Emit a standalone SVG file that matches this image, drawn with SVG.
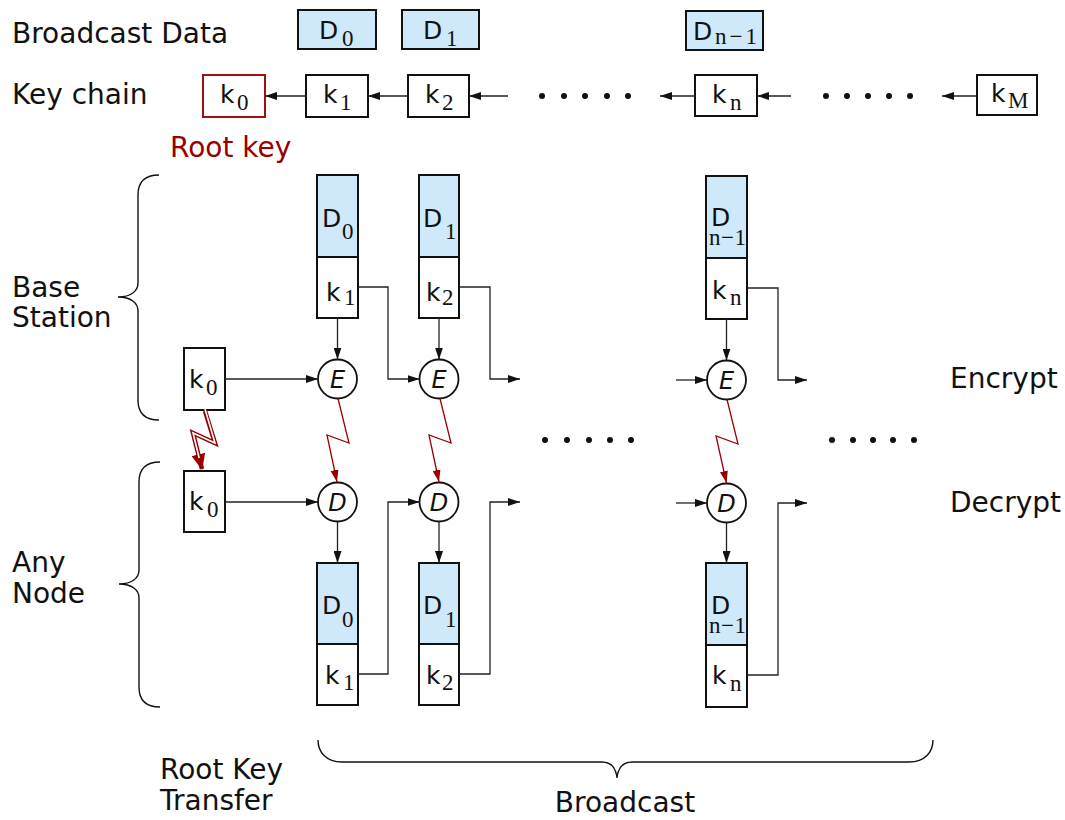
<svg xmlns="http://www.w3.org/2000/svg" width="1065" height="820" viewBox="0 0 1065 820">
<defs>
<style>
.lbl{font-family:"DejaVu Sans","Liberation Sans",sans-serif;font-size:28px;fill:#111}
.red{fill:#990000}
.bx{fill:#fff;stroke:#111;stroke-width:2}
.bd{fill:#cfe9fb;stroke:#111;stroke-width:2}
.bk{font-family:"DejaVu Sans","Liberation Sans",sans-serif;font-size:25px;fill:#111}
.sb{font-family:"Liberation Serif","DejaVu Serif",serif;font-size:23px}
.op{font-family:"DejaVu Sans","Liberation Sans",sans-serif;font-size:24px;font-style:italic;fill:#111}
.cir{fill:#fff;stroke:#111;stroke-width:1.8}
.ar{fill:none;stroke:#222;stroke-width:1.3;marker-end:url(#ah)}
.bolt{fill:none;stroke:#990000;stroke-width:1.3;marker-end:url(#rh)}
.br{fill:none;stroke:#111;stroke-width:1.4}
.dot{fill:#111}
</style>
<marker id="ah" viewBox="0 0 12 8" refX="12" refY="4" markerWidth="12" markerHeight="8" markerUnits="userSpaceOnUse" orient="auto"><path d="M0,0 L12,4 L0,8 z" fill="#111"/></marker>
<marker id="rh" viewBox="0 0 12 8" refX="12" refY="4" markerWidth="12" markerHeight="8" markerUnits="userSpaceOnUse" orient="auto"><path d="M0,0 L12,4 L0,8 z" fill="#990000"/></marker>
<marker id="rbig" viewBox="0 0 16 14" refX="15" refY="7" markerWidth="16" markerHeight="14" markerUnits="userSpaceOnUse" orient="auto"><path d="M0,0 L16,7 L0,14 z" fill="#990000"/></marker>
</defs>
<rect width="1065" height="820" fill="#fff"/>

<g id="labels">
<text class="lbl" x="12" y="43">Broadcast Data</text>
<text class="lbl" x="12" y="104">Key chain</text>
<text class="lbl red" x="170" y="157">Root key</text>
<text class="lbl" x="12" y="297">Base</text>
<text class="lbl" x="12" y="327">Station</text>
<text class="lbl" x="12" y="572">Any</text>
<text class="lbl" x="12" y="603">Node</text>
<text class="lbl" x="950" y="388">Encrypt</text>
<text class="lbl" x="950" y="512">Decrypt</text>
<text class="lbl" x="160" y="779">Root Key</text>
<text class="lbl" x="160" y="810">Transfer</text>
<text class="lbl" x="625" y="812" text-anchor="middle">Broadcast</text>
</g>

<g id="braces">
<path class="br" d="M159,175 C145,175 138,182 138,195 L138,283 C138,291 131,297 118,297 C131,297 138,303 138,311 L138,400 C138,413 145,420 159,420"/>
<path class="br" d="M160,462 C146,462 139,469 139,482 L139,570 C139,578 132,584 119,584 C132,584 139,590 139,598 L139,687 C139,700 146,707 160,707"/>
<path class="br" d="M318,740 C318,752 326,762 342,762 L602,762 C611,762 616,768 617,778 C618,768 623,762 632,762 L909,762 C925,762 933,752 933,740"/>
</g>

<g id="dots">
<circle class="dot" cx="542" cy="96" r="3"/><circle class="dot" cx="564" cy="96" r="3"/><circle class="dot" cx="585" cy="96" r="3"/><circle class="dot" cx="607" cy="96" r="3"/><circle class="dot" cx="628" cy="96" r="3"/>
<circle class="dot" cx="826" cy="96" r="3"/><circle class="dot" cx="847" cy="96" r="3"/><circle class="dot" cx="868" cy="96" r="3"/><circle class="dot" cx="889" cy="96" r="3"/><circle class="dot" cx="910" cy="96" r="3"/>
<circle class="dot" cx="545" cy="440" r="3"/><circle class="dot" cx="567" cy="440" r="3"/><circle class="dot" cx="589" cy="440" r="3"/><circle class="dot" cx="610" cy="440" r="3"/><circle class="dot" cx="631" cy="440" r="3"/>
<circle class="dot" cx="832" cy="440" r="3"/><circle class="dot" cx="853" cy="440" r="3"/><circle class="dot" cx="873" cy="440" r="3"/><circle class="dot" cx="893" cy="440" r="3"/><circle class="dot" cx="914" cy="440" r="3"/>
</g>

<g id="data-D0"><rect class="bd" x="298" y="10" width="78" height="39"/><text class="bk" x="319" y="39">D<tspan class="sb" x="342" y="46">0</tspan></text></g>
<g id="data-D1"><rect class="bd" x="402" y="10" width="77" height="39"/><text class="bk" x="423" y="39">D<tspan class="sb" x="446" y="46">1</tspan></text></g>
<g id="data-Dn1"><rect class="bd" x="686" y="11" width="77" height="39"/><text class="bk" x="693" y="40">D<tspan class="sb" x="715" y="44" textLength="42" lengthAdjust="spacing">n−1</tspan></text></g>

<g id="kc-k0"><rect class="bx" x="203" y="75" width="62" height="42" style="stroke:#a01010"/><text class="bk" x="220" y="103">k<tspan class="sb" x="237" y="110">0</tspan></text></g>
<g id="kc-k1"><rect class="bx" x="306" y="75" width="62" height="42"/><text class="bk" x="323" y="103">k<tspan class="sb" x="340" y="110">1</tspan></text></g>
<g id="kc-k2"><rect class="bx" x="408" y="75" width="61" height="42"/><text class="bk" x="425" y="103">k<tspan class="sb" x="442" y="110">2</tspan></text></g>
<g id="kc-kn"><rect class="bx" x="695" y="75" width="62" height="41"/><text class="bk" x="712" y="103">k<tspan class="sb" x="730" y="110">n</tspan></text></g>
<g id="kc-kM"><rect class="bx" x="977" y="75" width="60" height="40"/><text class="bk" x="991" y="102">k<tspan class="sb" x="1008" y="108">M</tspan></text></g>

<g id="bs-k0"><rect class="bx" x="184" y="348" width="41" height="62"/><text class="bk" x="189" y="388">k<tspan class="sb" x="206" y="395">0</tspan></text></g>
<g id="bs-col1"><rect class="bd" x="317" y="175" width="41" height="82"/><rect class="bx" x="317" y="257" width="41" height="61"/><text class="bk" x="322" y="227">D<tspan class="sb" x="342" y="239">0</tspan></text><text class="bk" x="326" y="301">k<tspan class="sb" x="344" y="305">1</tspan></text></g>
<g id="bs-col2"><rect class="bd" x="419" y="175" width="40" height="82"/><rect class="bx" x="419" y="257" width="40" height="61"/><text class="bk" x="423" y="227">D<tspan class="sb" x="445" y="239">1</tspan></text><text class="bk" x="426" y="301">k<tspan class="sb" x="442" y="305">2</tspan></text></g>
<g id="bs-coln"><rect class="bd" x="706" y="176" width="41" height="82"/><rect class="bx" x="706" y="258" width="41" height="61"/><text class="bk" x="711" y="226">D<tspan class="sb" x="709" y="245" textLength="37" lengthAdjust="spacing">n−1</tspan></text><text class="bk" x="712" y="299">k<tspan class="sb" x="730" y="305">n</tspan></text></g>
<g id="enc1"><circle class="cir" cx="337.5" cy="379" r="19.5"/><text class="op" x="337.5" y="388" text-anchor="middle">E</text></g>
<g id="enc2"><circle class="cir" cx="439" cy="379" r="19.5"/><text class="op" x="439" y="388" text-anchor="middle">E</text></g>
<g id="encn"><circle class="cir" cx="726.5" cy="380" r="19.5"/><text class="op" x="726.5" y="389" text-anchor="middle">E</text></g>

<g id="an-k0"><rect class="bx" x="184" y="471" width="41" height="61"/><text class="bk" x="189" y="510">k<tspan class="sb" x="207" y="517">0</tspan></text></g>
<g id="dec1"><circle class="cir" cx="337.5" cy="502" r="19.5"/><text class="op" x="337.5" y="511" text-anchor="middle">D</text></g>
<g id="dec2"><circle class="cir" cx="439" cy="502" r="19.5"/><text class="op" x="439" y="511" text-anchor="middle">D</text></g>
<g id="decn"><circle class="cir" cx="726.5" cy="503" r="19.5"/><text class="op" x="726.5" y="512" text-anchor="middle">D</text></g>
<g id="an-col1"><rect class="bd" x="317" y="563" width="41" height="81"/><rect class="bx" x="317" y="644" width="41" height="61"/><text class="bk" x="322" y="614">D<tspan class="sb" x="342" y="627">0</tspan></text><text class="bk" x="325" y="684">k<tspan class="sb" x="343" y="690">1</tspan></text></g>
<g id="an-col2"><rect class="bd" x="419" y="563" width="40" height="81"/><rect class="bx" x="419" y="644" width="40" height="61"/><text class="bk" x="423" y="614">D<tspan class="sb" x="445" y="627">1</tspan></text><text class="bk" x="426" y="684">k<tspan class="sb" x="442" y="690">2</tspan></text></g>
<g id="an-coln"><rect class="bd" x="706" y="563" width="41" height="82"/><rect class="bx" x="706" y="645" width="41" height="62"/><text class="bk" x="711" y="614">D<tspan class="sb" x="709" y="633" textLength="37" lengthAdjust="spacing">n−1</tspan></text><text class="bk" x="712" y="684">k<tspan class="sb" x="730" y="691">n</tspan></text></g>

<g id="connectors">
<path class="ar" d="M306,96 L265,96"/>
<path class="ar" d="M408,96 L368,96"/>
<path class="ar" d="M508,96 L469,96"/>
<path class="ar" d="M695,96 L660,96"/>
<path class="ar" d="M791,96 L757,96"/>
<path class="ar" d="M977,96 L942,96"/>
<path class="ar" d="M337.5,318 L337.5,359.5"/>
<path class="ar" d="M439,318 L439,359.5"/>
<path class="ar" d="M726.5,319 L726.5,360.5"/>
<path class="ar" d="M225,379 L318,379"/>
<path class="ar" d="M358,287 L388,287 L388,379 L419.5,379"/>
<path class="ar" d="M459,287 L490,287 L490,379 L520,379"/>
<path class="ar" d="M676,380 L707,380"/>
<path class="ar" d="M747,288 L778,288 L778,380 L807,380"/>
<path class="ar" d="M225,502 L318,502"/>
<path class="ar" d="M337.5,521.5 L337.5,563"/>
<path class="ar" d="M439,521.5 L439,563"/>
<path class="ar" d="M726.5,522.5 L726.5,563"/>
<path class="ar" d="M358,674 L388,674 L388,502 L419.5,502"/>
<path class="ar" d="M459,674 L490,674 L490,502 L520,502"/>
<path class="ar" d="M676,503 L707,503"/>
<path class="ar" d="M747,675 L778,675 L778,503 L807,503"/>
<path class="bolt" d="M338,398.5 L349,443 L327,435 L337,482"/>
<path class="bolt" d="M440,398.5 L451,443 L429,435 L439,482"/>
<path class="bolt" d="M727,399.5 L738,444 L716,436 L726.5,483"/>
<path d="M205,411 L215,443 L193,433 L202,469" fill="none" stroke="#990000" stroke-width="4.5" marker-end="url(#rbig)"/>
<path d="M205,409 L215,443 L193,433 L199.2,458" fill="none" stroke="#fff" stroke-width="1.6"/>
</g>
</svg>
